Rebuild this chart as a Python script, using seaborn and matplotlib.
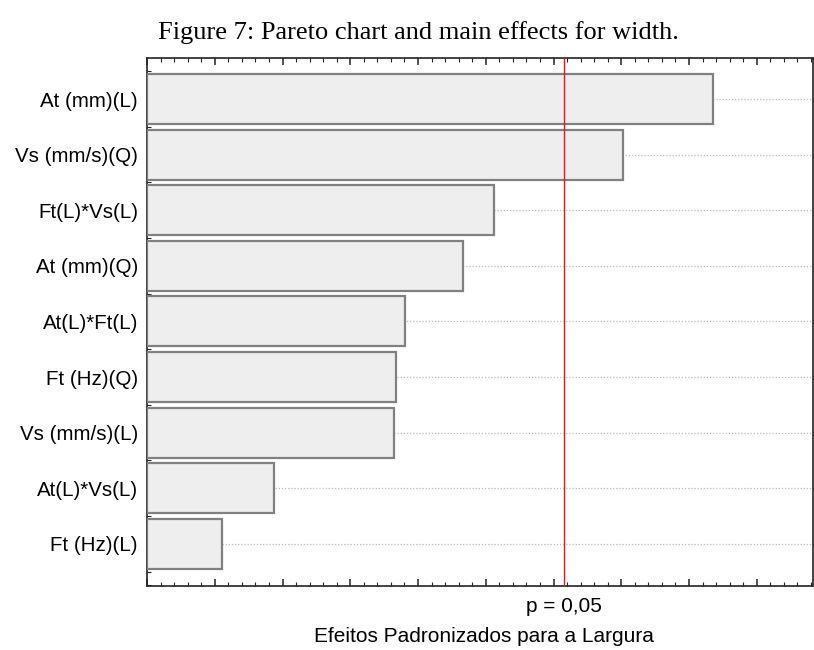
import matplotlib
matplotlib.use("Agg")
import matplotlib.pyplot as plt
from matplotlib.ticker import MultipleLocator, NullFormatter
import pandas as pd
import seaborn as sns

# Standardized effects (Pareto order)
terms = ["At (mm)(L)", "Vs (mm/s)(Q)", "Ft(L)*Vs(L)", "At (mm)(Q)", "At(L)*Ft(L)",
         "Ft (Hz)(Q)", "Vs (mm/s)(L)", "At(L)*Vs(L)", "Ft (Hz)(L)"]
effects = [8.35, 7.02, 5.12, 4.66, 3.81, 3.68, 3.65, 1.88, 1.11]
p_limit = 6.155
p_label = "p = 0,05"
x_title = "Efeitos Padronizados para a Largura"
fig_title = "Figure 7: Pareto chart and main effects for width."

df = pd.DataFrame({"term": terms, "effect": effects})

sns.set_style("white")
plt.rcParams["font.family"] = ["Liberation Sans", "DejaVu Sans"]
plt.rcParams["text.color"] = "black"
plt.rcParams["ytick.labelcolor"] = "black"

fig = plt.figure(figsize=(8.14, 6.5), dpi=100)
ax = fig.add_axes([0.1806, 0.0985, 0.8182, 0.8123])

sns.barplot(data=df, x="effect", y="term", orient="h", ax=ax,
            color="#eeeeee", edgecolor="#808080", linewidth=1.6,
            width=0.9, saturation=1, zorder=3)

ax.set_xlim(0, 9.83)
ax.set_ylim(8.76, -0.74)

# dotted guide lines at each term
ax.grid(axis="y", which="major", linestyle=(0, (1, 1.5)), color="#bdbdbd",
        linewidth=0.9, zorder=0)
ax.grid(axis="x", visible=False)
ax.set_axisbelow(True)

# significance threshold
ax.axvline(p_limit, color="#e8171b", linewidth=1.0, zorder=4)
ax.text(p_limit, -0.038, p_label, transform=ax.get_xaxis_transform(),
        ha="center", va="center", fontsize=15, color="black")

ax.xaxis.set_major_locator(MultipleLocator(1))
ax.xaxis.set_minor_locator(MultipleLocator(0.2))
ax.xaxis.set_major_formatter(NullFormatter())
ax.yaxis.set_minor_locator(MultipleLocator(0.25))
ax.tick_params(axis="x", which="both", direction="in", top=True, bottom=True,
               color="#222222")
ax.tick_params(axis="x", which="major", length=5, width=1.1)
ax.tick_params(axis="x", which="minor", length=3, width=0.8)
ax.tick_params(axis="y", which="major", direction="in", length=5, width=1.1,
               left=True, right=False, labelsize=14.8, pad=6.5, color="#222222",
               labelcolor="black")
ax.tick_params(axis="y", which="minor", direction="in", length=3, width=0.8,
               left=True, right=False, color="#222222")

for side, sp in ax.spines.items():
    sp.set_visible(True)
    sp.set_color("#222222")
    sp.set_linewidth(1.2)

ax.set_ylabel("")
ax.set_xlabel("")
fig.text(0.5946, 1 - 636 / 650, x_title, ha="center", va="center",
         fontsize=15, color="black")

fig.text(0.514, 1 - 33 / 650, fig_title, ha="center", va="center", fontsize=19,
         color="black", family=["Liberation Serif", "DejaVu Serif"])

fig.savefig("out.png", dpi=100)
